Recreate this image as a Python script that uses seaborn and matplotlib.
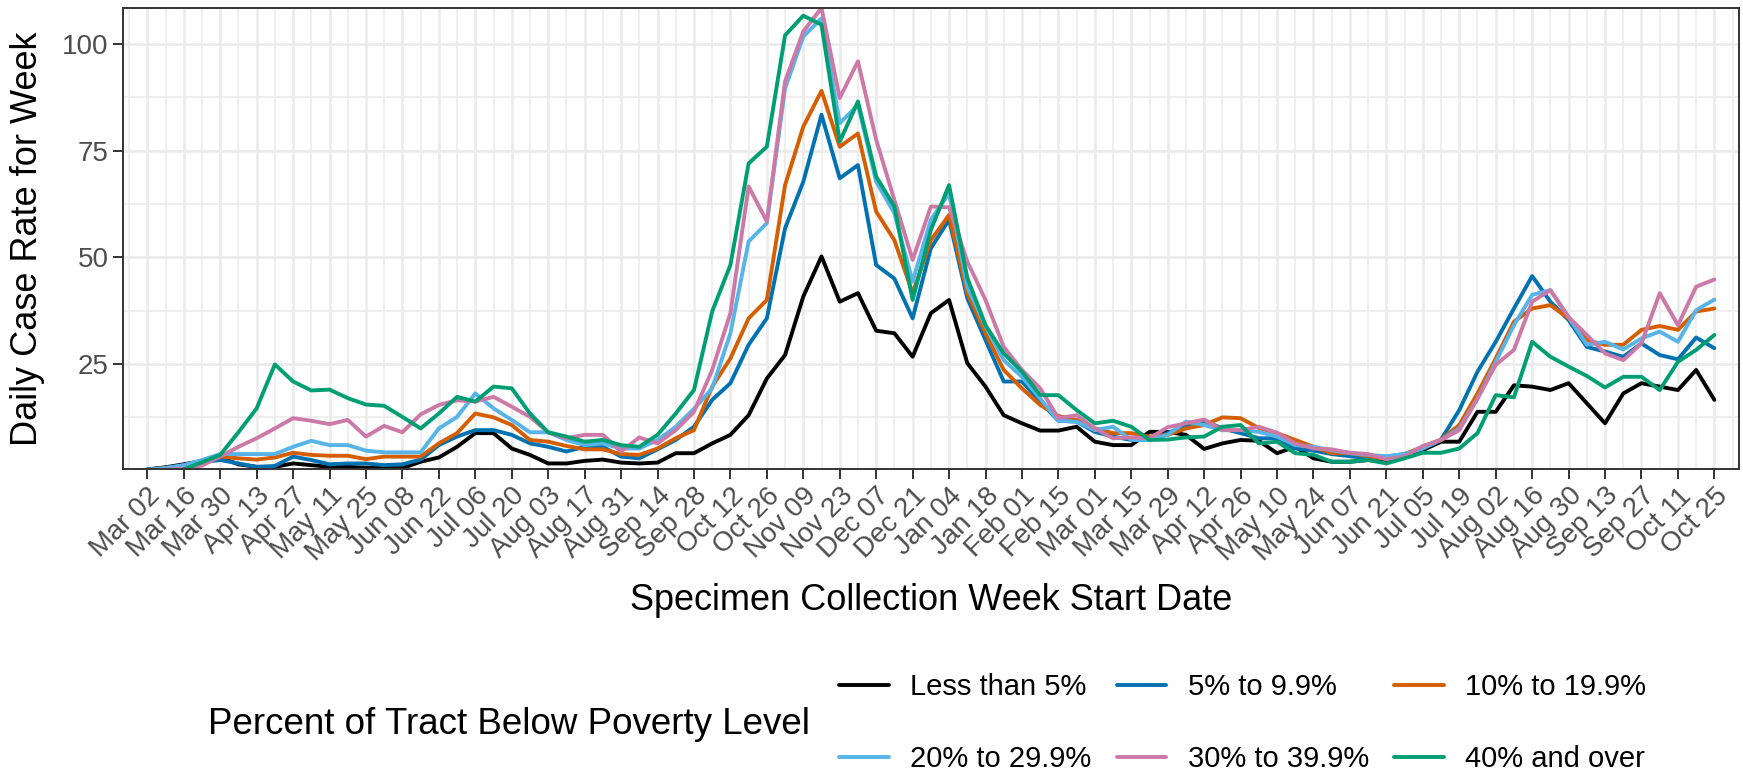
import numpy as np
import pandas as pd
import seaborn as sns
import matplotlib.pyplot as plt
import matplotlib.dates as mdates
from matplotlib.lines import Line2D

nan = np.nan
weeks = pd.date_range('2020-03-02', periods=87, freq='7D')

groups = ['Less than 5%', '5% to 9.9%', '10% to 19.9%',
          '20% to 29.9%', '30% to 39.9%', '40% and over']
colors = ['#000000', '#0072B2', '#D55E00', '#56B4E9', '#CC79A7', '#009E73']

less5 = [0.3, 0.8, 1.5, 2.3, 3.1, 1.5, 0.9, 0.9, 1.7, 1.3,
         0.9, 0.9, 0.7, 0.7, 0.6, 2.1, 3.1, 5.6, 8.8, 8.8,
         5.2, 3.7, 1.7, 1.7, 2.3, 2.6, 1.9, 1.7, 1.9, 4.1,
         4.1, 6.4, 8.4, 13.0, 21.6, 27.1, 40.8, 50.2, 39.6, 41.6,
         32.8, 32.2, 26.7, 36.9, 40.0, 25.2, 19.7, 13.0, 11.1, 9.4,
         9.4, 10.3, 6.8, 6.0, 6.0, 9.1, 9.1, 8.4, 5.1, 6.4,
         7.2, 7.0, 4.1, 5.6, 2.9, 2.1, 2.1, 2.5, 2.1, 3.3,
         4.8, 6.8, 6.8, 13.8, 13.8, 20.0, 19.7, 18.9, 20.5, 15.8,
         11.1, 18.1, 20.5, 19.7, 18.9, 23.6, 16.6]
p5_10 = [0.3, 0.7, 1.3, 2.0, 2.5, 1.7, 0.9, 1.1, 3.3, 2.5,
         1.5, 1.7, 1.7, 1.3, 1.5, 2.6, 6.0, 8.0, 9.5, 9.5,
         8.4, 6.4, 5.6, 4.5, 5.6, 5.6, 3.3, 2.9, 5.0, 7.2,
         10.3, 16.6, 20.5, 29.5, 35.7, 56.8, 67.7, 83.4, 68.5, 71.6,
         48.2, 45.0, 35.7, 52.1, 58.8, 40.4, 30.6, 20.9, 20.9, 16.2,
         11.7, 11.5, 9.1, 8.0, 7.2, 7.2, 8.8, 10.7, 11.7, 9.9,
         8.8, 7.6, 7.6, 5.2, 4.7, 3.9, 3.4, 2.9, 3.3, 3.9,
         5.2, 7.3, 14.2, 23.2, 30.2, 38.0, 45.6, 39.6, 35.3, 29.0,
         27.9, 26.7, 29.8, 27.1, 26.1, 31.2, 28.7]
p10_20 = [0.2, 0.6, 1.2, 2.2, 3.3, 2.9, 2.6, 3.1, 4.2, 3.7,
          3.5, 3.5, 2.7, 3.3, 3.3, 3.3, 6.4, 8.8, 13.4, 12.5,
          10.7, 7.2, 6.8, 5.8, 5.0, 5.0, 3.9, 3.7, 5.2, 7.6,
          9.5, 19.7, 26.3, 35.7, 40.0, 66.9, 80.6, 89.0, 75.9, 79.0,
          60.7, 54.0, 41.6, 54.0, 59.9, 41.6, 32.2, 23.6, 19.3, 15.4,
          12.8, 11.9, 9.9, 8.8, 8.8, 8.0, 8.4, 9.9, 10.7, 12.5,
          12.3, 10.0, 8.8, 7.2, 5.6, 4.1, 4.1, 3.4, 2.7, 3.9,
          5.6, 7.3, 10.7, 18.1, 26.3, 34.9, 38.0, 38.8, 35.7, 30.6,
          29.5, 29.5, 33.0, 33.9, 33.0, 37.3, 38.0]
p20_30 = [0.2, 0.6, 1.3, 2.5, 3.9, 3.9, 3.9, 3.9, 5.6, 7.0,
          6.0, 6.0, 4.7, 4.3, 4.3, 4.3, 9.9, 12.6, 18.1, 14.6,
          11.9, 9.0, 9.0, 7.2, 6.0, 6.4, 5.2, 5.2, 7.2, 10.3,
          14.5, 19.3, 32.2, 53.7, 58.0, 89.6, 101.7, 106.0, 81.4, 85.7,
          67.7, 60.3, 44.3, 58.8, 65.0, 43.1, 33.8, 25.9, 22.0, 16.9,
          11.7, 11.5, 9.5, 10.3, 7.2, 7.2, 8.4, 11.5, 10.7, 9.5,
          9.5, 9.1, 8.0, 6.0, 5.6, 4.8, 4.1, 3.7, 3.4, 3.9,
          5.2, 7.2, 9.9, 16.9, 25.5, 34.1, 41.2, 42.3, 36.0, 29.5,
          30.2, 28.4, 31.0, 32.6, 30.2, 37.6, 40.1]
p30_40 = [0.1, 0.2, 0.5, 1.2, 3.3, 5.6, 7.6, 9.9, 12.3, 11.7,
          10.9, 11.9, 8.0, 10.5, 9.0, 13.2, 15.4, 16.5, 16.2, 17.3,
          15.0, 12.6, 9.0, 7.6, 8.4, 8.4, 4.5, 7.8, 6.4, 9.5,
          13.8, 23.6, 36.9, 66.6, 58.4, 91.2, 102.9, 108.4, 87.3, 95.9,
          77.5, 63.4, 49.4, 61.9, 61.7, 49.0, 40.0, 29.0, 23.6, 19.3,
          12.3, 13.0, 9.9, 7.6, 7.8, 7.6, 10.2, 11.1, 12.0, 9.5,
          9.5, 10.3, 8.9, 6.4, 5.2, 5.0, 4.2, 3.9, 2.7, 3.3,
          5.8, 7.2, 9.5, 16.9, 24.8, 28.3, 39.6, 42.3, 36.0, 31.8,
          27.5, 25.9, 29.8, 41.6, 34.1, 43.1, 44.8]
p40_up = [nan, nan, 0.3, 2.0, 3.7, 9.0, 14.6, 24.9, 20.9, 18.8,
          19.0, 17.0, 15.5, 15.2, 12.6, 9.9, 13.4, 17.3, 16.2, 19.7,
          19.3, 13.4, 9.0, 8.0, 6.8, 7.2, 6.0, 5.6, 8.4, 13.4,
          18.9, 37.3, 48.2, 72.0, 75.9, 102.0, 106.6, 104.5, 77.1, 86.5,
          68.9, 61.9, 40.0, 56.4, 66.9, 45.2, 34.1, 27.5, 23.2, 17.7,
          17.7, 14.2, 11.1, 11.7, 10.3, 7.2, 7.3, 7.8, 8.0, 10.3,
          10.7, 6.4, 6.8, 4.1, 3.7, 2.1, 2.1, 2.5, 1.7, 2.9,
          4.2, 4.2, 5.2, 8.8, 17.7, 17.2, 30.2, 26.7, 24.4, 22.2,
          19.5, 22.0, 22.0, 18.9, 25.5, 28.3, 31.8]

series = [less5, p5_10, p10_20, p20_30, p30_40, p40_up]
df = pd.concat([pd.DataFrame({'week': weeks, 'rate': s, 'group': g})
                for g, s in zip(groups, series)]).dropna()

sns.set_style('white')
plt.rcParams['font.family'] = ['Liberation Sans', 'DejaVu Sans']

fig = plt.figure(figsize=(17.43, 7.77), dpi=100)
ax = fig.add_axes([0.0704, 0.3964, 0.9275, 0.5933])

sns.lineplot(data=df, x='week', y='rate', hue='group', hue_order=groups,
             palette=colors, linewidth=2.8, estimator=None, legend=False, ax=ax)

# axis limits and ticks
wnum = mdates.date2num(weeks.to_pydatetime())
ax.set_xlim(wnum[0] - 1.35 * 7, wnum[-1] + 1.37 * 7)
ax.set_ylim(0.4, 108.4)
ax.set_xticks(wnum[::2])
ax.set_xticklabels(weeks[::2].strftime('%b %d'), rotation=45, ha='right',
                   va='top', rotation_mode='anchor')
ax.set_xticks(np.concatenate([[wnum[0] - 7], wnum[1::2], [wnum[-1] + 7]]), minor=True)
ax.set_yticks([25, 50, 75, 100])
ax.set_yticks([12.5, 37.5, 62.5, 87.5], minor=True)

ax.grid(True, which='major', color='#EBEBEB', lw=1.9)
ax.grid(True, which='minor', color='#EBEBEB', lw=1.1)
ax.set_axisbelow(True)
ax.tick_params(which='major', length=7, width=1.4, color='#333333',
               labelsize=20, labelcolor='#4D4D4D', pad=3)
ax.tick_params(which='minor', length=0)
ax.tick_params(axis='both', which='both', bottom=True, left=True)
for sp in ax.spines.values():
    sp.set_color('#333333')
    sp.set_linewidth(1.4)

ax.set_xlabel('Specimen Collection Week Start Date', fontsize=26,
              va='center', color='black')
ax.set_ylabel('Daily Case Rate for Week', fontsize=26, va='center', color='black')
ax.xaxis.set_label_coords(0.5, -0.286)
ax.yaxis.set_label_coords(-0.0592, 0.5)

# legend laid out row by row
handles = [Line2D([], [], color=c, lw=2.8) for c in colors]
order = [0, 3, 1, 4, 2, 5]
fig.legend([handles[i] for i in order], [groups[i] for i in order],
           loc='center left', bbox_to_anchor=(839 / 1743, 1 - 723 / 777),
           ncol=3, frameon=False, fontsize=21, handlelength=1.7,
           handletextpad=0.75, columnspacing=0.85, labelspacing=1.5,
           borderpad=0, borderaxespad=0, labelcolor='black')
fig.text(208 / 1743, 1 - 725 / 777, 'Percent of Tract Below Poverty Level',
         fontsize=26.5, ha='left', va='center', color='black')

fig.savefig('out.png', dpi=100)
